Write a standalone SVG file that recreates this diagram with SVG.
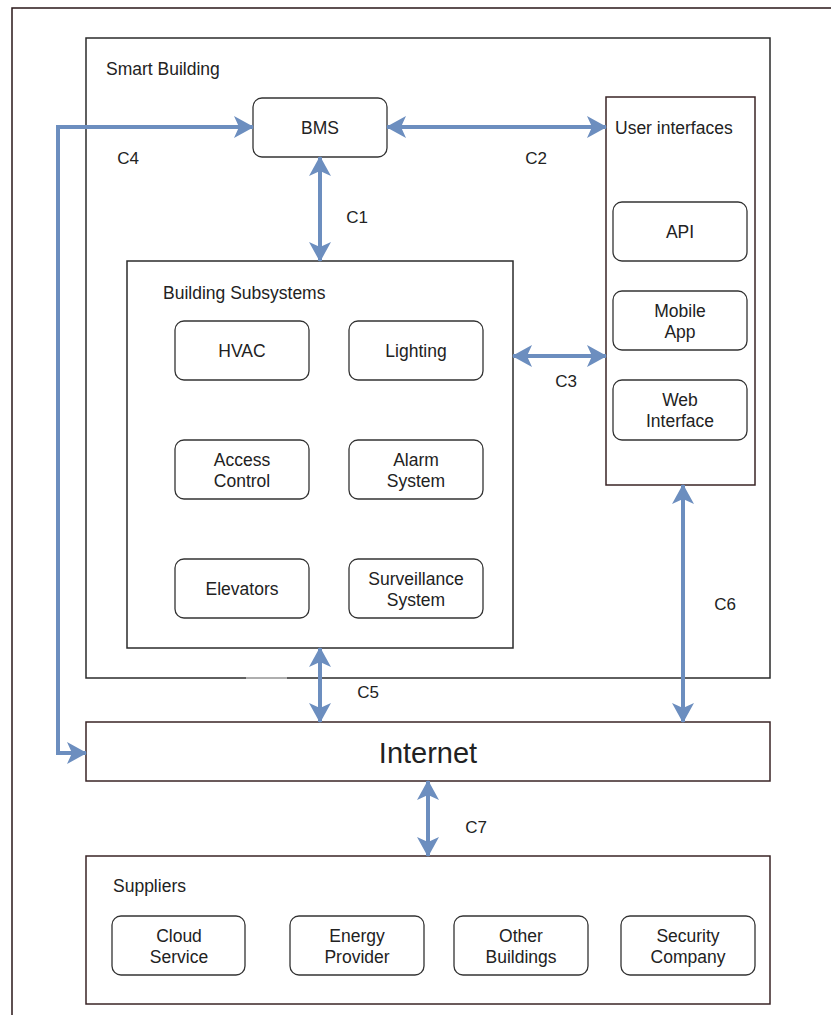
<svg xmlns="http://www.w3.org/2000/svg" width="831" height="1015" viewBox="0 0 831 1015">
<style>
.t{font-family:"Liberation Sans",Arial,sans-serif;font-size:17.5px;fill:#222}
.c{text-anchor:middle}
.lb{font-size:17px}
.box{fill:none;stroke:#2b2b2b;stroke-width:1.5}
.bbox{fill:none;stroke:#3a2526;stroke-width:1.5}
.rbox{fill:#fff;stroke:#333;stroke-width:1.3}
.con{fill:none;stroke:#6c8ebf;stroke-width:4;marker-start:url(#ah);marker-end:url(#ah)}
</style>
<defs>
<marker id="ah" viewBox="0 0 20 22" refX="19" refY="11" markerWidth="20" markerHeight="22" markerUnits="userSpaceOnUse" orient="auto-start-reverse">
<path d="M0,0 L20,11 L0,22 L5,11 Z" fill="#6c8ebf"/>
</marker>
</defs>
<rect width="831" height="1015" fill="#fff"/>
<path d="M12,1015 V8 H831" fill="none" stroke="#2a1718" stroke-width="1.5"/>

<g id="smart-building">
<rect class="box" x="86" y="38" width="684" height="640"/>
<text class="t" x="106" y="75">Smart Building</text>
</g>
<g id="bms">
<rect class="rbox" x="253" y="98" width="134" height="59" rx="9"/>
<text class="t c" x="320" y="134">BMS</text>
</g>
<g id="user-interfaces">
<rect class="bbox" x="606" y="97" width="149" height="388"/>
<text class="t" x="615" y="134">User interfaces</text>
</g>
<g id="api">
<rect class="rbox" x="613" y="202" width="134" height="59" rx="9"/>
<text class="t c" x="680" y="238">API</text>
</g>
<g id="mobile-app">
<rect class="rbox" x="613" y="291" width="134" height="59" rx="9"/>
<text class="t c" x="680" y="317">Mobile</text>
<text class="t c" x="680" y="338">App</text>
</g>
<g id="web-interface">
<rect class="rbox" x="613" y="380" width="134" height="60" rx="9"/>
<text class="t c" x="680" y="406">Web</text>
<text class="t c" x="680" y="427">Interface</text>
</g>
<g id="building-subsystems">
<rect class="box" x="127" y="261" width="386" height="387"/>
<text class="t" x="163" y="299">Building Subsystems</text>
</g>
<g id="hvac">
<rect class="rbox" x="175" y="321" width="134" height="59" rx="9"/>
<text class="t c" x="242" y="357">HVAC</text>
</g>
<g id="lighting">
<rect class="rbox" x="349" y="321" width="134" height="59" rx="9"/>
<text class="t c" x="416" y="357">Lighting</text>
</g>
<g id="access-control">
<rect class="rbox" x="175" y="440" width="134" height="59" rx="9"/>
<text class="t c" x="242" y="466">Access</text>
<text class="t c" x="242" y="487">Control</text>
</g>
<g id="alarm-system">
<rect class="rbox" x="349" y="440" width="134" height="59" rx="9"/>
<text class="t c" x="416" y="466">Alarm</text>
<text class="t c" x="416" y="487">System</text>
</g>
<g id="elevators">
<rect class="rbox" x="175" y="559" width="134" height="59" rx="9"/>
<text class="t c" x="242" y="595">Elevators</text>
</g>
<g id="surveillance-system">
<rect class="rbox" x="349" y="559" width="134" height="59" rx="9"/>
<text class="t c" x="416" y="585">Surveillance</text>
<text class="t c" x="416" y="606">System</text>
</g>
<g id="internet">
<rect class="bbox" x="86" y="722" width="684" height="59"/>
<text class="t c" x="428" y="763" style="font-size:29px">Internet</text>
</g>
<g id="suppliers">
<rect class="bbox" x="86" y="856" width="684" height="148"/>
<text class="t" x="113" y="892">Suppliers</text>
</g>
<g id="cloud-service">
<rect class="rbox" x="112" y="916" width="133" height="59" rx="9"/>
<text class="t c" x="179" y="942">Cloud</text>
<text class="t c" x="179" y="963">Service</text>
</g>
<g id="energy-provider">
<rect class="rbox" x="290" y="916" width="134" height="59" rx="9"/>
<text class="t c" x="357" y="942">Energy</text>
<text class="t c" x="357" y="963">Provider</text>
</g>
<g id="other-buildings">
<rect class="rbox" x="454" y="916" width="134" height="59" rx="9"/>
<text class="t c" x="521" y="942">Other</text>
<text class="t c" x="521" y="963">Buildings</text>
</g>
<g id="security-company">
<rect class="rbox" x="621" y="916" width="134" height="59" rx="9"/>
<text class="t c" x="688" y="942">Security</text>
<text class="t c" x="688" y="963">Company</text>
</g>

<g id="connectors">
<path class="con" d="M86,753 H58 V127 H253"/>
<path class="con" d="M387,127 H606"/>
<path class="con" d="M320,157 V261"/>
<path class="con" d="M513,356 H606"/>
<path class="con" d="M320,648 V722"/>
<path class="con" d="M683,485 V722"/>
<path class="con" d="M428,781 V856"/>
<line x1="246" y1="678" x2="287" y2="678" stroke="#c8c8c8" stroke-width="1.6"/>
<text class="t c lb" x="128" y="164">C4</text>
<text class="t c lb" x="536" y="164">C2</text>
<text class="t c lb" x="357" y="223">C1</text>
<text class="t c lb" x="566" y="387">C3</text>
<text class="t c lb" x="368" y="698">C5</text>
<text class="t c lb" x="725" y="610">C6</text>
<text class="t c lb" x="476" y="833">C7</text>
</g>
</svg>
